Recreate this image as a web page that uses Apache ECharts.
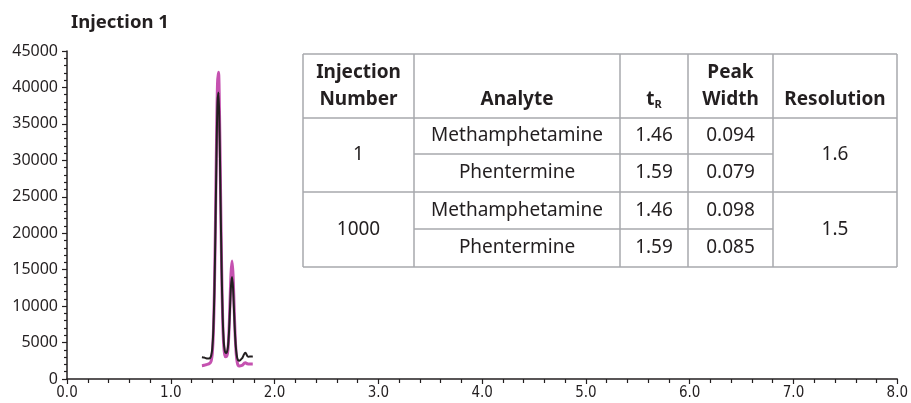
<!DOCTYPE html>
<html>
<head>
<meta charset="utf-8">
<script src="https://cdn.jsdelivr.net/npm/echarts@6/dist/echarts.min.js"></script>
<style>
html,body{margin:0;padding:0;background:#fff;}
#chart{width:911px;height:403px;}
</style>
</head>
<body>
<div id="chart"></div>
<script>
// ---- Data ----
var chartTitle = 'Injection 1';
var timeMin = [1.30,1.31,1.32,1.33,1.34,1.35,1.36,1.37,1.38,1.39,
               1.40,1.41,1.42,1.43,1.44,1.45,1.46,1.47,1.48,1.49,
               1.50,1.51,1.52,1.53,1.54,1.55,1.56,1.57,1.58,1.59,
               1.60,1.61,1.62,1.63,1.64,1.65,1.66,1.67,1.68,1.69,
               1.70,1.71,1.72,1.73,1.74,1.75,1.76,1.77,1.78,1.79];
// magenta trace
var signalMagenta = [1830,1850,1880,1920,1960,2000,2050,2100,2200,2500,
                     3500,6200,11900,21100,32000,40400,42100,36000,25400,15300,
                     8200,4600,3300,3050,3150,3900,6300,10300,14400,16200,
                     14300,10100,6000,3500,2300,1850,1780,1800,1850,1900,
                     2050,2200,2240,2150,2080,2060,2070,2070,2060,2060];
// black trace
var signalBlack = [2980,2960,2940,2900,2850,2800,2800,2820,2900,3250,
                   4200,6700,11900,20200,30200,37850,39300,33800,24200,15000,
                   8500,5200,3900,3560,3650,4300,6200,9400,12700,14000,
                   12500,9100,5900,3900,2900,2550,2500,2600,2750,2900,
                   3200,3500,3600,3350,3100,3050,3100,3100,3080,3060];
var xTicks = [0,1,2,3,4,5,6,7,8];
var yTicks = [0,5000,10000,15000,20000,25000,30000,35000,40000,45000];

var tableHeader = [['Injection','Number'], ['Analyte'], ['t','R'], ['Peak','Width'], ['Resolution']];
var injectionNumbers = ['1', '1000'];
var analytes = ['Methamphetamine', 'Phentermine', 'Methamphetamine', 'Phentermine'];
var retentionTimes = ['1.46', '1.59', '1.46', '1.59'];
var peakWidths = ['0.094', '0.079', '0.098', '0.085'];
var resolutions = ['1.6', '1.5'];

// ---- Build ----
var TXT = '#231f20';
var GRID_LINE = '#a7a9ac';
function pairs(xs, ys){ return xs.map(function(x,i){ return [x, ys[i]]; }); }

// table geometry (layout, not data)
var colX = [303, 414, 620, 688, 773, 897];
var rowY = [54, 118, 154, 192, 229, 267];
var graphics = [];
function hline(y, x1, x2){ graphics.push({type:'line', silent:true, shape:{x1:x1,y1:y,x2:x2,y2:y}, style:{stroke:GRID_LINE, lineWidth:1.5}}); }
function vline(x, y1, y2){ graphics.push({type:'line', silent:true, shape:{x1:x,y1:y1,x2:x,y2:y2}, style:{stroke:GRID_LINE, lineWidth:1.5}}); }
function txt(s, x, y, bold){
  graphics.push({type:'text', silent:true, style:{text:s, x:x, y:y, fill:TXT, align:'center', verticalAlign:'middle',
            font:(bold?'bold ':'') + '19px "Noto Sans", sans-serif'}});
}
hline(rowY[0], colX[0], colX[5]);
hline(rowY[1], colX[0], colX[5]);
hline(rowY[2], colX[1], colX[4]);
hline(rowY[3], colX[0], colX[5]);
hline(rowY[4], colX[1], colX[4]);
hline(rowY[5], colX[0], colX[5]);
colX.forEach(function(x){ vline(x, rowY[0], rowY[5]); });

function cx(c){ return (colX[c] + colX[c+1]) / 2; }
var hdrLine1 = 73, hdrLine2 = 100;
// header
txt(tableHeader[0][0], cx(0), hdrLine1, true);
txt(tableHeader[0][1], cx(0), hdrLine2, true);
txt(tableHeader[1][0], cx(1), hdrLine2, true);
graphics.push({type:'text', silent:true, style:{
  text:'{b|' + tableHeader[2][0] + '}{s|' + tableHeader[2][1] + '}', x:cx(2), y:hdrLine2,
  align:'center', verticalAlign:'middle', fill:TXT,
  rich:{b:{font:'bold 19px "Noto Sans", sans-serif', fill:TXT, verticalAlign:'bottom'},
        s:{font:'bold 11px "Noto Sans", sans-serif', fill:TXT, verticalAlign:'bottom', padding:[0,0,-1,0]}}
}});
txt(tableHeader[3][0], cx(3), hdrLine1, true);
txt(tableHeader[3][1], cx(3), hdrLine2, true);
txt(tableHeader[4][0], cx(4), hdrLine2, true);
// body
for (var r = 0; r < 4; r++){
  var yc = (rowY[r+1] + rowY[r+2]) / 2;
  txt(analytes[r], cx(1), yc, false);
  txt(retentionTimes[r], cx(2), yc, false);
  txt(peakWidths[r], cx(3), yc, false);
}
for (var g = 0; g < 2; g++){
  var ym = (rowY[1 + g*2] + rowY[3 + g*2]) / 2;
  txt(injectionNumbers[g], cx(0), ym, false);
  txt(resolutions[g], cx(4), ym, false);
}

var chart = echarts.init(document.getElementById('chart'), null, {renderer:'canvas'});
chart.setOption({
  animation:false,
  backgroundColor:'#fff',
  title:{text:chartTitle, left:66, top:8,
         textStyle:{fontFamily:'"Noto Sans", sans-serif', fontWeight:'bold', fontSize:18.5, color:TXT}},
  grid:{left:67, right:13, top:51, bottom:24, containLabel:false},
  xAxis:{type:'value', min:xTicks[0], max:xTicks[xTicks.length-1], interval:1,
    axisLine:{show:true, onZero:false, lineStyle:{color:TXT, width:1.5}},
    axisTick:{show:true, length:5, lineStyle:{color:TXT, width:1.2}},
    minorTick:{show:true, splitNumber:5, length:4, lineStyle:{color:TXT, width:1.2}},
    splitLine:{show:false},
    axisLabel:{margin:7, color:TXT, fontSize:15, fontFamily:'"DejaVu Sans Condensed", "Liberation Sans Narrow", "Noto Sans", sans-serif',
      formatter:function(v){ return v.toFixed(1); }}
  },
  yAxis:{type:'value', min:yTicks[0], max:yTicks[yTicks.length-1], interval:5000,
    axisLine:{show:true, lineStyle:{color:TXT, width:1.5}},
    axisTick:{show:true, length:5, lineStyle:{color:TXT, width:1.2}},
    minorTick:{show:true, splitNumber:5, length:3, lineStyle:{color:TXT, width:1.2}},
    splitLine:{show:false},
    axisLabel:{margin:9, color:TXT, fontSize:16, fontFamily:'"Noto Sans", sans-serif',
      formatter:function(v){ return String(v); }}
  },
  series:[
    {type:'line', data:pairs(timeMin, signalMagenta), showSymbol:false, smooth:0.3,
     lineStyle:{color:'#c552b0', width:3}, z:2},
    {type:'line', data:pairs(timeMin, signalBlack), showSymbol:false, smooth:0.3,
     lineStyle:{color:TXT, width:2}, z:3}
  ],
  graphic:graphics
});
</script>
</body>
</html>
